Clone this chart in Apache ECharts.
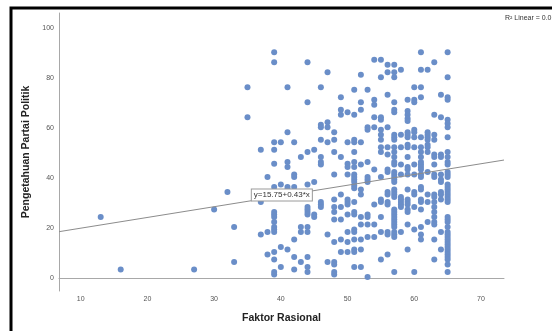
<!DOCTYPE html>
<html>
<head>
<meta charset="utf-8">
<script src="https://cdn.jsdelivr.net/npm/echarts@6/dist/echarts.min.js"></script>
<style>
html, body { margin: 0; padding: 0; background: #fff; }
#main { width: 552px; height: 331px; }
</style>
</head>
<body>
<div id="main"></div>
<script>
// Faktor Rasional values (x) and the Pengetahuan Partai Politik values seen at each x
const faktorRasional = [13, 16, 27, 30, 32, 33, 35, 37, 38, 39, 40, 41, 42, 43, 44, 45, 46, 47, 48, 49, 50, 51, 52, 53, 54, 55, 56, 57, 58, 59, 60, 61, 62, 63, 64, 65];
const pengetahuan = [
  [24.5],
  [3.5],
  [3.5],
  [27.5],
  [34.5],
  [20.5, 6.5],
  [76.5, 64.5],
  [51.5, 30.5, 17.5],
  [40.5, 18.5, 9.5],
  [90.5, 86.5, 54.5, 51.5, 45.8, 36.5, 26.5, 25.5, 24.5, 22.5, 20.5, 19.5, 18.5, 10.5, 7.5, 2.5, 1.5],
  [54.5, 37.5, 12.5, 4.5],
  [76.5, 58.5, 46.5, 44.5, 36.5, 35.5, 11.5],
  [54.5, 41.5, 40.5, 36.5, 15.5, 8.5, 3.5],
  [48.5, 20.5, 18.5, 6.5],
  [86.5, 70.5, 50.5, 37.5, 28.5, 27.5, 26.5, 25.5, 20.5, 18.5, 8.5, 4.5, 2.5],
  [51.5, 38.5, 25.5, 24.5],
  [76.5, 61.5, 60.5, 55.5, 48.5, 46.5, 45.5, 30.5, 29.5, 28.5],
  [82.5, 62.5, 60.5, 54.5, 17.5, 6.5],
  [58.5, 55.5, 50.5, 41.5, 31.5, 28.5, 26.5, 23.5, 14.5, 6.5, 5.5, 2.5, 1.5],
  [72.5, 67.5, 65.5, 48.5, 33.5, 28.5, 23.5, 15.5, 10.5],
  [66.5, 54.5, 45.8, 44.5, 41.5, 31.5, 30.5, 29.5, 25.5, 18.5, 14.5, 10.5],
  [75.5, 65.5, 55.5, 54.5, 50.5, 46.5, 44.5, 41.5, 40.5, 39.5, 38.5, 37, 36, 30.5, 26.5, 25.5, 19.5, 18.5, 15.5, 11.5, 10.5, 4.5],
  [81.5, 70.5, 67.5, 54.5, 45.5, 35.5, 33.5, 24.5, 21.5, 15.5, 11.5, 4.5],
  [75.5, 60.5, 59.5, 46.5, 40.5, 39.5, 38.5, 25.5, 24.5, 21.5, 16.5, 0.5],
  [87.5, 71.5, 69.5, 64.5, 60.5, 43.5, 29.5, 21.5, 16.5],
  [87.5, 80.5, 64.5, 63.5, 59.5, 57.5, 55.5, 52.5, 50.5, 40.5, 31.5, 30.5, 24.5, 18.5, 7.5],
  [85.5, 82.5, 73.5, 60.5, 52.5, 49.5, 43.5, 42.5, 34.5, 33.5, 30.5, 29.5, 18.5, 17.5, 9.5],
  [85.5, 82.5, 80.5, 70.5, 67.5, 66.5, 57.5, 56.5, 55.5, 52.5, 50.5, 48.5, 46.5, 45.5, 42.5, 41.5, 40.5, 39.5, 38.5, 35.5, 34.5, 33.5, 32.5, 27.5, 26.5, 25.5, 24.5, 23.5, 22.5, 21.5, 20.5, 18.5, 17.5, 16.5, 2.5],
  [83.5, 57.5, 52.5, 45.5, 41.5, 32.5, 31.5, 30.5, 29.5, 28.5, 18.5],
  [71.5, 67, 65.5, 64, 63, 58.5, 57.5, 56.5, 53.5, 52.5, 48.5, 44.5, 43.5, 41.5, 35.5, 31.5, 30.5, 29.5, 27.5, 26.5, 21.5, 11.5],
  [76.5, 71.5, 70.5, 59.5, 58.5, 56.5, 52.5, 45.5, 41.5, 34.5, 33.5, 28.5, 19.5, 2.5],
  [90.5, 83.5, 76.5, 72.5, 56.5, 52.5, 50.5, 48.5, 46.5, 45.5, 44.5, 43.5, 41.5, 40.5, 36.5, 35.5, 31.5, 30.5, 27.5, 20.5, 17.5, 15.5],
  [83.5, 58.5, 57.5, 56.5, 55.5, 53.5, 52.5, 50.5, 42.5, 33.5, 30.5, 22.5],
  [86.5, 65.5, 57.5, 55.5, 49.5, 48.5, 45.5, 41.5, 40.5, 33.5, 32.5, 30.5, 28.5, 26.5, 24.5, 22.5, 21.5, 15.5, 7.5],
  [73.5, 64.5, 49.5, 48.5, 41.5, 39.5, 38.5, 34.5, 33.5, 31.5, 18.5, 11.5],
  [90.5, 80.5, 72.5, 71.5, 63.5, 62, 60.5, 56.5, 50.5, 48.5, 46.5, 45.5, 42.5, 41.5, 40.5, 37.5, 36.5, 35.5, 34.5, 33.5, 32.5, 31.5, 30.5, 24.5, 23.5, 22.5, 20.5, 18.5, 17.5, 16.5, 15.5, 14.5, 13.5, 12.5, 11.5, 10.5, 9.5, 8.5, 7.5, 5.5, 2.5]
];
const xTicks = [10, 20, 30, 40, 50, 60, 70];
const yTicks = [0, 20, 40, 60, 80, 100];
// fit line y = 15.75 + 0.43 * x
const intercept = 15.75;
const slope = 0.43;

const xMin = 6.75, xMax = 73.45;
const yMin = -5.1, yMax = 106.2;

let chart = echarts.init(document.getElementById('main'));

let points = [];
faktorRasional.forEach((x, i) => {
  pengetahuan[i].forEach(y => points.push([x, y]));
});
const fit = x => intercept + slope * x;

let option = {
  animation: false,
  backgroundColor: '#fff',
  grid: { left: 59, top: 13, right: 48, bottom: 40 },
  xAxis: {
    type: 'value',
    min: xMin,
    max: xMax,
    name: 'Faktor Rasional',
    nameLocation: 'middle',
    nameGap: 22,
    nameTextStyle: { fontFamily: 'Liberation Sans', fontWeight: 'bold', fontSize: 10.5, color: '#222' },
    axisLine: { lineStyle: { color: '#a8a8a8', width: 1 } },
    axisTick: { show: false },
    splitLine: { show: false },
    axisLabel: {
      customValues: xTicks,
      fontFamily: 'Liberation Sans', fontSize: 7, color: '#555', margin: 5
    }
  },
  yAxis: {
    type: 'value',
    min: yMin,
    max: yMax,
    name: 'Pengetahuan Partai Politik',
    nameLocation: 'middle',
    nameGap: 20,
    nameTextStyle: { fontFamily: 'Liberation Sans', fontWeight: 'bold', fontSize: 10.5, color: '#222' },
    axisLine: { show: true, lineStyle: { color: '#a8a8a8', width: 1 } },
    axisTick: { show: false },
    splitLine: { show: false },
    axisLabel: {
      customValues: yTicks,
      fontFamily: 'Liberation Sans', fontSize: 7, color: '#555', margin: 5
    }
  },
  series: [
    {
      type: 'scatter',
      data: points,
      symbolSize: 6,
      itemStyle: { color: '#6a8ec8', opacity: 1 },
      z: 2
    },
    {
      type: 'line',
      data: [[xMin, fit(xMin)], [xMax, fit(xMax)]],
      showSymbol: false,
      lineStyle: { color: '#8c8c8c', width: 1 },
      z: 3,
      markPoint: {
        symbol: 'rect',
        symbolSize: 0,
        data: [{ coord: [40, fit(40)] }],
        label: {
          show: true,
          position: 'inside',
          offset: [1, -1],
          formatter: 'y=15.75+0.43*x',
          fontFamily: 'Liberation Sans',
          fontSize: 8,
          color: '#333',
          backgroundColor: '#fff',
          borderColor: '#9a9a9a',
          borderWidth: 1,
          padding: [2, 2, 1, 2]
        }
      }
    }
  ],
  graphic: [
    {
      type: 'rect',
      shape: { x: 11, y: 8, width: 700, height: 500 },
      style: { fill: 'none', stroke: '#000', lineWidth: 3 },
      silent: true
    },
    {
      type: 'text',
      left: 505,
      top: 15,
      style: { text: 'R² Linear = 0.0', fontFamily: 'Liberation Sans', fontSize: 7, fill: '#333' }
    }
  ]
};
option && chart.setOption(option);
</script>
</body>
</html>
